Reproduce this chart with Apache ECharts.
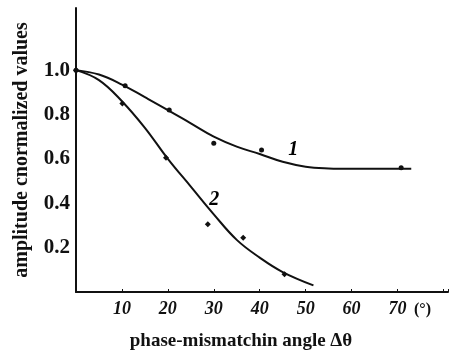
<!DOCTYPE html>
<html>
<head>
<meta charset="utf-8">
<script src="https://cdn.jsdelivr.net/npm/echarts@6/dist/echarts.min.js"></script>
<style>
  html, body { margin: 0; padding: 0; background: #fff; }
  #chart { width: 464px; height: 352px; }
</style>
</head>
<body>
<div id="chart"></div>
<script>
// measured points (angle in degrees, normalized amplitude)
const curve1Points = [[0, 1.0], [10.7, 0.93], [20.3, 0.82], [30, 0.67], [40.4, 0.64], [70.8, 0.56]];
const curve2Points = [[0, 1.0], [10.1, 0.85], [19.6, 0.605], [28.7, 0.305], [36.4, 0.245], [45.4, 0.08]];

// fitted curves as drawn
const curve1Line = [[0, 1.0], [5, 0.98], [10, 0.935], [15, 0.878], [20, 0.82], [25, 0.76], [30, 0.70],
  [35, 0.655], [40, 0.622], [45, 0.587], [50, 0.565], [55, 0.557], [60, 0.555], [65, 0.555], [73, 0.555]];
const curve2Line = [[0, 1.0], [5, 0.955], [10, 0.86], [15, 0.74], [20, 0.60], [25, 0.475], [30, 0.35],
  [35, 0.235], [40, 0.155], [45, 0.09], [51.7, 0.03]];

const curveTags = [[47.3, 0.64, "1"], [30.1, 0.415, "2"]];

const serif = "Liberation Serif";
const chart = echarts.init(document.getElementById("chart"));

const option = {
  backgroundColor: "#fff",
  animation: false,
  grid: { left: 76, right: 16, top: 8, bottom: 60, outerBoundsMode: "none", containLabel: false },
  xAxis: {
    type: "value",
    min: 0,
    max: 81,
    interval: 10,
    name: "phase-mismatchin angle Δθ",
    nameLocation: "middle",
    nameGap: 40,
    nameTextStyle: { fontFamily: serif, fontWeight: "bold", fontSize: 19, color: "#111", padding: [0, 42, 0, 0] },
    axisLine: { lineStyle: { color: "#111", width: 2 } },
    axisTick: { inside: true, length: 3, lineStyle: { color: "#111" } },
    splitLine: { show: false },
    axisLabel: {
      fontFamily: serif, fontWeight: "bold", fontStyle: "italic", fontSize: 18, color: "#111", margin: 8,
      formatter: (v) => (v === 0 || v > 75 ? "" : String(v))
    }
  },
  yAxis: {
    type: "value",
    min: 0,
    max: 1.28,
    interval: 0.2,
    name: "amplitude cnormalized values",
    nameLocation: "middle",
    nameGap: 44,
    nameTextStyle: { fontFamily: serif, fontWeight: "bold", fontSize: 20, color: "#111" },
    axisLine: { show: true, lineStyle: { color: "#111", width: 2 } },
    axisTick: { show: false },
    splitLine: { show: false },
    axisLabel: {
      fontFamily: serif, fontWeight: "bold", fontSize: 21, color: "#111", margin: 6,
      formatter: (v) => (v < 0.1 || v > 1.05 ? "" : v.toFixed(1))
    }
  },
  graphic: [{
    type: "text", left: 414, top: 302,
    style: { text: "(°)", font: "bold 16px " + serif, fill: "#111" }
  }],
  series: [
    {
      type: "line", smooth: 0.4, data: curve1Line, symbol: "none",
      lineStyle: { color: "#111", width: 2 }
    },
    {
      type: "line", smooth: 0.4, data: curve2Line, symbol: "none",
      lineStyle: { color: "#111", width: 2 }
    },
    {
      type: "scatter", data: curve1Points, symbol: "circle", symbolSize: 5,
      itemStyle: { color: "#111", opacity: 1 }
    },
    {
      type: "scatter", data: curve2Points, symbol: "diamond", symbolSize: 6,
      itemStyle: { color: "#111", opacity: 1 }
    },
    {
      type: "scatter", data: curveTags, symbolSize: 0, silent: true,
      itemStyle: { opacity: 1 },
      label: {
        show: true, position: "inside", formatter: (p) => p.value[2],
        fontFamily: serif, fontStyle: "italic", fontWeight: "bold", fontSize: 20, color: "#000"
      }
    }
  ]
};

chart.setOption(option);
</script>
</body>
</html>
